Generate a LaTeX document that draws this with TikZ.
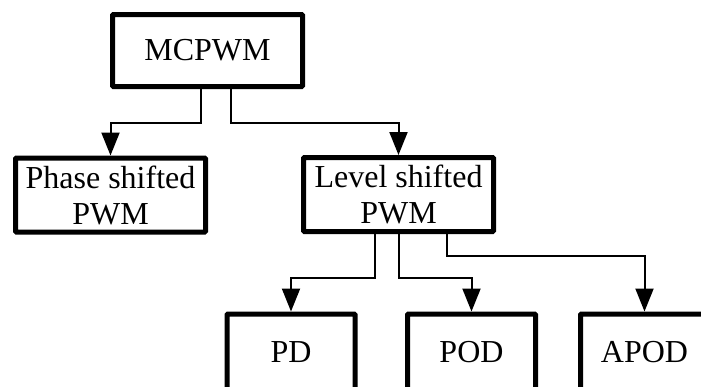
\documentclass[tikz,border=0pt]{standalone}
\usepackage{fontspec}
\setmainfont{Liberation Serif}
\usetikzlibrary{arrows.meta,calc}
\begin{document}
\begin{tikzpicture}[x=1pt,y=-1pt,
  box/.style={draw, line width=5pt, rounded corners=1pt, align=center, inner sep=0pt,
    font=\fontsize{32pt}{36pt}\selectfont},
  topbox/.style={box, minimum width=190pt, minimum height=72pt},
  midbox/.style={box, minimum width=190pt, minimum height=74pt},
  lowbox/.style={box, minimum width=128pt, minimum height=76pt},
  conn/.style={line width=2pt, -{Triangle[length=23pt,width=18pt]}}]
\useasboundingbox (0,0) rectangle (701,386);
\clip (0,0) rectangle (701,386);
\node[topbox] (m) at (207.5,50.5) {MCPWM};
\node[midbox] (p) at (110.5,195) {Phase shifted\\PWM};
\node[midbox] (l) at (398.5,194.5) {Level shifted\\PWM};
\node[lowbox] (pd) at (291,352) {PD};
\node[lowbox] (pod) at (471.5,352) {POD};
\node[lowbox] (apod) at (644.5,352) {APOD};
\draw[conn] ([xshift=-6.5pt]m.south) -- ++(0,34) -| (p.north);
\draw[conn] ([xshift=23.5pt]m.south) -- ++(0,34) -| (l.north);
\draw[conn] ([xshift=-23.5pt]l.south) -- ++(0,44) -| (pd.north);
\draw[conn] ([xshift=0.5pt]l.south) -- ++(0,44) -| (pod.north);
\draw[conn] ([xshift=48.5pt]l.south) -- ++(0,22) -| (apod.north);
\end{tikzpicture}
\end{document}
